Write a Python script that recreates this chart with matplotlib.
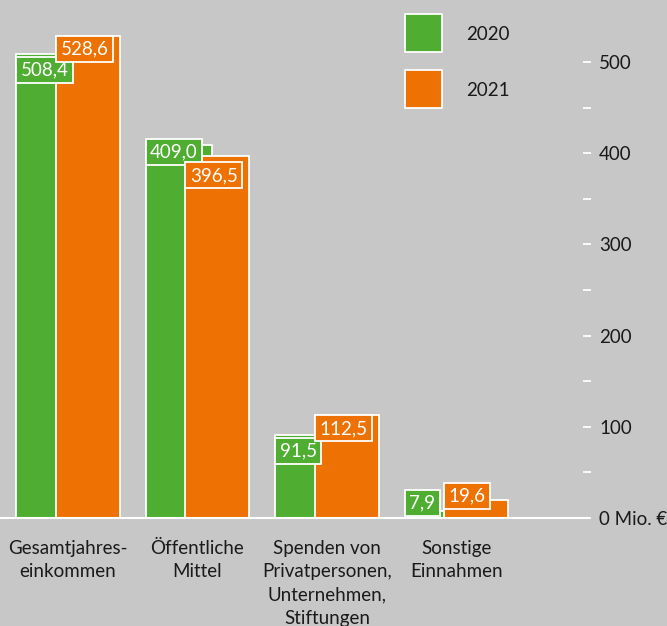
import numpy as np
import matplotlib
matplotlib.use("Agg")
import matplotlib.pyplot as plt
from matplotlib.patches import Rectangle
from matplotlib.ticker import FixedLocator

plt.rcParams["font.family"] = ["Lato", "DejaVu Sans"]

categories = ["Gesamtjahres-\neinkommen", "Öffentliche\nMittel",
              "Spenden von\nPrivatpersonen,\nUnternehmen,\nStiftungen",
              "Sonstige\nEinnahmen"]
vals_2020 = [508.4, 409.0, 91.5, 7.9]
vals_2021 = [528.6, 396.5, 112.5, 19.6]
labels_2020 = ["508,4", "409,0", "91,5", "7,9"]
labels_2021 = ["528,6", "396,5", "112,5", "19,6"]
series_names = ["2020", "2021"]
yticks = [0, 100, 200, 300, 400, 500]
ytick_labels = ["0 Mio. €", "100", "200", "300", "400", "500"]
minor_ticks = [50, 150, 250, 350, 450]

bg = "#c6c7c6"
green = "#4fae32"
orange = "#ee7203"
txt = "#1a1a1a"

# label box offsets from bar top (pixels, + = downward)
dy_2020 = [3, -6, 3.5, -21]
dy_2021 = [0, 6, 0, -17]

W, H = 667, 626
fig = plt.figure(figsize=(W / 100, H / 100), dpi=100, facecolor=bg)
ax = fig.add_axes([0, 108 / H, 583 / W, 518 / H])
ax.set_facecolor(bg)

x = np.arange(len(categories))
g_left = x - 0.40
o_left = x - 0.093
ax.bar(g_left, vals_2020, width=0.51, align="edge", color=green,
       edgecolor="white", linewidth=1.3, zorder=2)
ax.bar(o_left, vals_2021, width=0.494, align="edge", color=orange,
       edgecolor="white", linewidth=1.3, zorder=3)

pad = 4.5  # px
for lefts, vals, labs, dys, col, z in [(g_left, vals_2020, labels_2020, dy_2020, green, 4),
                                       (o_left, vals_2021, labels_2021, dy_2021, orange, 5)]:
    for xl, v, lab, dy in zip(lefts, vals, labs, dys):
        ax.annotate(lab, xy=(xl, v), xytext=(pad * 0.72, -(pad + dy) * 0.72),
                    textcoords="offset points", ha="left", va="top",
                    fontsize=13.5, color="white", zorder=z,
                    bbox=dict(boxstyle="square,pad=0.24", fc=col, ec="white", lw=1.3))

ax.plot([0, 1.009], [0, 0], color="white", lw=1.5, transform=ax.get_yaxis_transform(),
        clip_on=False, zorder=6)

ax.set_xlim(-0.525, 3.977)
ax.set_ylim(0, 568)
for s in ax.spines.values():
    s.set_visible(False)

ax.yaxis.tick_right()
ax.set_yticks(yticks)
ax.set_yticklabels(ytick_labels)
ax.yaxis.set_minor_locator(FixedLocator(minor_ticks))
ax.tick_params(axis="y", which="both", length=5.5, width=1.3, color="white",
               labelsize=13.5, labelcolor=txt, pad=6)

ax.set_xticks(x)
ax.set_xticklabels(categories, fontsize=13.5, color=txt, linespacing=1.47)
ax.tick_params(axis="x", length=0, pad=15.5)

# legend
for i, (name, col) in enumerate(zip(series_names, [green, orange])):
    top = 14 + i * 56
    fig.add_artist(Rectangle((405 / W, 1 - (top + 38) / H), 37 / W, 38 / H,
                             transform=fig.transFigure, fc=col, ec="white", lw=1.3))
    fig.text(466 / W, 1 - (top + 20) / H, name, fontsize=13.5, color=txt,
             ha="left", va="center")

fig.savefig("out.png", dpi=100, facecolor=bg)
